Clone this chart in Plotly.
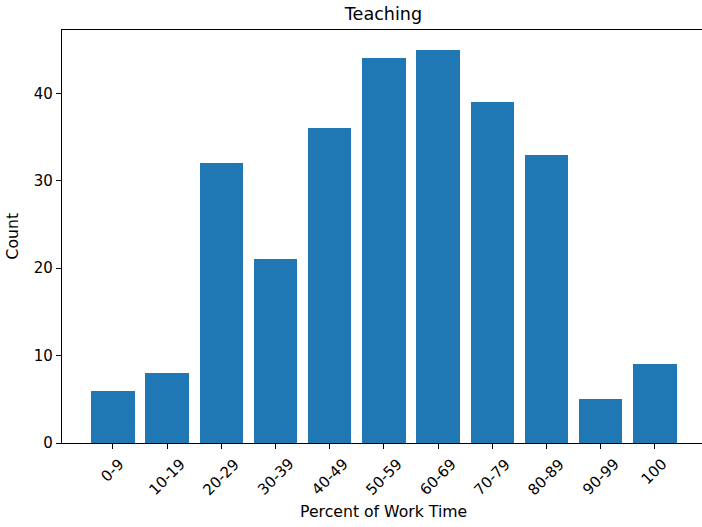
import plotly.graph_objects as go

# Survey bins: share of work time spent teaching
categories = ["0-9", "10-19", "20-29", "30-39", "40-49", "50-59",
              "60-69", "70-79", "80-89", "90-99", "100"]
counts = [6, 8, 32, 21, 36, 44, 45, 39, 33, 5, 9]
y_ticks = [0, 10, 20, 30, 40]

FONT = "DejaVu Sans"
TICK_SIZE = 15
LABEL_SIZE = 15.7
TITLE_SIZE = 17.6

fig = go.Figure(
    go.Bar(
        x=list(range(len(categories))),
        y=counts,
        width=0.8,
        marker=dict(color="#1f77b4", line=dict(width=0)),
    )
)

# Rotated category labels, centred under each tick
annotations = [
    dict(
        x=i, xref="x", y=0, yref="y",
        text=label, textangle=-45,
        xanchor="center", yanchor="top",
        yshift=-9, showarrow=False,
        font=dict(family=FONT, size=TICK_SIZE, color="black"),
    )
    for i, label in enumerate(categories)
]
annotations.append(dict(
    x=(383.5 - 62) / 640, xref="paper", y=0, yref="paper",
    text="Percent of Work Time", xanchor="center", yanchor="middle",
    yshift=-68, showarrow=False,
    font=dict(family=FONT, size=LABEL_SIZE, color="black"),
))
annotations.append(dict(
    x=0, xref="paper", y=0.5, yref="paper",
    text="Count", textangle=-90, xanchor="center", yanchor="middle",
    xshift=-50, showarrow=False,
    font=dict(family=FONT, size=LABEL_SIZE, color="black"),
))

fig.update_layout(
    width=702,
    height=527,
    margin=dict(l=62, r=0, t=30, b=84),
    paper_bgcolor="white",
    plot_bgcolor="white",
    font=dict(family=FONT, size=TICK_SIZE, color="black"),
    showlegend=False,
    title=dict(
        text="Teaching",
        x=383.5 / 702,
        xanchor="center",
        y=1 - 14 / 527,
        yanchor="middle",
        font=dict(family=FONT, size=TITLE_SIZE, color="black"),
    ),
    bargap=0,
    annotations=annotations,
)

fig.update_xaxes(
    range=[-0.94, 10.87],
    tickmode="array",
    tickvals=list(range(len(categories))),
    showticklabels=False,
    ticks="outside",
    ticklen=5,
    tickwidth=1,
    tickcolor="black",
    showline=True,
    linecolor="black",
    linewidth=1.2,
    mirror=True,
    showgrid=False,
    zeroline=False,
)

fig.update_yaxes(
    range=[0, 47.25],
    tickmode="array",
    tickvals=y_ticks,
    ticks="outside",
    ticklen=5,
    tickwidth=1,
    tickcolor="black",
    showline=True,
    linecolor="black",
    linewidth=1.2,
    showgrid=False,
    zeroline=False,
)

fig.write_html("out.html")
